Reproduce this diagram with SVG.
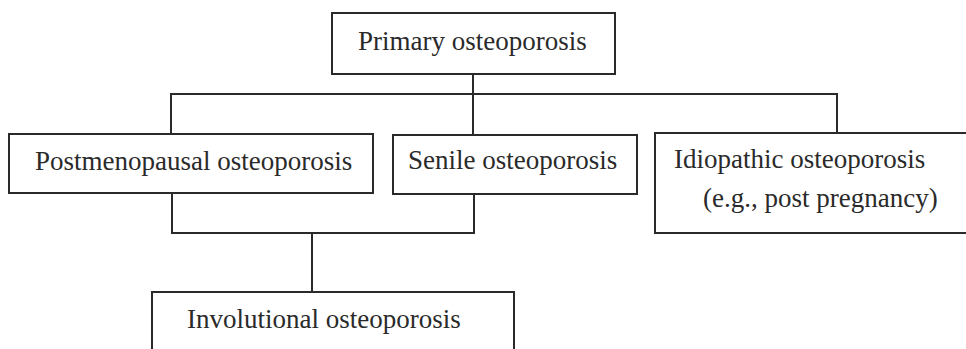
<svg xmlns="http://www.w3.org/2000/svg" width="966" height="349" viewBox="0 0 966 349">
<style>
.box{fill:#fff;stroke:#2a2a2a;stroke-width:2}
.ln{fill:none;stroke:#2a2a2a;stroke-width:2}
text{font-family:"Liberation Serif","Times New Roman",serif;font-size:27px;fill:#2a2a2a}
</style>
<rect width="966" height="349" fill="#fff"/>
<g id="connectors">
<path class="ln" d="M473 74 V135"/>
<path class="ln" d="M171 134 V94 H837 V133"/>
<path class="ln" d="M172 193 V233 H474 V194"/>
<path class="ln" d="M312 233 V292"/>
</g>
<g id="primary">
<rect class="box" x="332" y="13" width="283" height="61"/>
<text x="358" y="50">Primary osteoporosis</text>
</g>
<g id="postmenopausal">
<rect class="box" x="9" y="134" width="364" height="59"/>
<text x="35" y="170">Postmenopausal osteoporosis</text>
</g>
<g id="senile">
<rect class="box" x="393" y="135" width="244" height="59"/>
<text x="408" y="169">Senile osteoporosis</text>
</g>
<g id="idiopathic">
<rect class="box" x="655" y="133" width="340" height="100"/>
<text x="674" y="168">Idiopathic osteoporosis</text>
<text x="703" y="207">(e.g., post pregnancy)</text>
</g>
<g id="involutional">
<rect class="box" x="152" y="292" width="362" height="80"/>
<text x="187" y="328">Involutional osteoporosis</text>
</g>
</svg>
